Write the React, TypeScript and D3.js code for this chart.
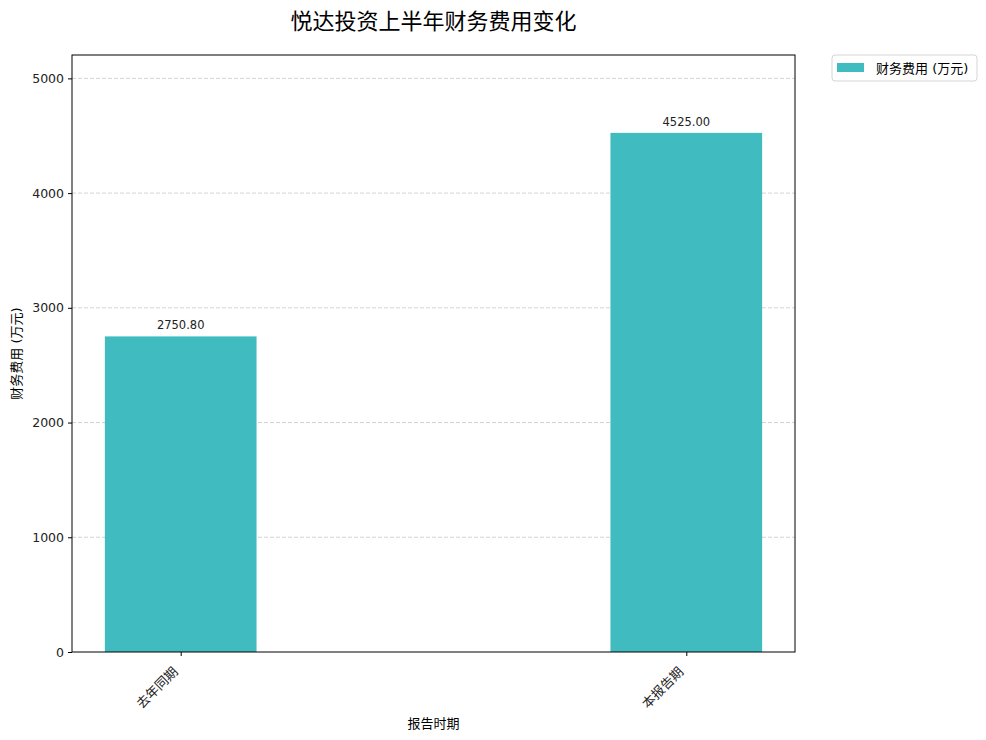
import React, { useEffect, useRef } from 'react'
import * as d3 from 'd3'

const categories = ['去年同期', '本报告期']
const values = [2750.8, 4525.0]
const yTicks = [0, 1000, 2000, 3000, 4000, 5000]
const seriesName = '财务费用 (万元)'
const title = '悦达投资上半年财务费用变化'
const xLabel = '报告时期'
const yLabel = '财务费用 (万元)'

const barColor = '#40bbbf'
const fontFamily = '"DejaVu Sans", "Noto Sans CJK SC", sans-serif'

const App: React.FC = () => {
  const svgRef = useRef<SVGSVGElement>(null)
  const width = 986
  const height = 740

  useEffect(() => {
    if (!svgRef.current) return
    const svg = d3.select(svgRef.current)
    svg.selectAll('*').remove()

    const margin = { top: 55, right: 191, bottom: 88, left: 72 }
    const innerWidth = width - margin.left - margin.right
    const innerHeight = height - margin.top - margin.bottom

    const g = svg.append('g')
      .attr('transform', `translate(${margin.left},${margin.top})`)

    // matplotlib-style numeric x positions with auto margins
    const barW = 0.3
    const xScale = d3.scaleLinear()
      .domain([-0.215, 1.215])
      .range([0, innerWidth])

    const yScale = d3.scaleLinear()
      .domain([0, d3.max(values)! * 1.15])
      .range([innerHeight, 0])

    // Grid
    g.append('g')
      .selectAll('line')
      .data(yTicks.filter(t => t > 0))
      .enter().append('line')
      .attr('x1', 0)
      .attr('x2', innerWidth)
      .attr('y1', d => yScale(d))
      .attr('y2', d => yScale(d))
      .attr('stroke', '#b0b0b0')
      .attr('stroke-opacity', 0.7)
      .attr('stroke-dasharray', '4,2')
      .attr('stroke-width', 0.8)

    // Bars
    g.selectAll('.bar')
      .data(values)
      .enter().append('rect')
      .attr('class', 'bar')
      .attr('x', (d, i) => xScale(i - barW / 2))
      .attr('width', xScale(barW) - xScale(0))
      .attr('y', d => yScale(d))
      .attr('height', d => innerHeight - yScale(d))
      .attr('fill', barColor)

    // Value labels
    g.selectAll('.val')
      .data(values)
      .enter().append('text')
      .attr('x', (d, i) => xScale(i))
      .attr('y', d => yScale(d) - 7)
      .attr('text-anchor', 'middle')
      .style('font-family', fontFamily)
      .style('font-size', '11.5px')
      .attr('fill', '#222')
      .text(d => d.toFixed(2))

    // Frame
    g.append('rect')
      .attr('width', innerWidth)
      .attr('height', innerHeight)
      .attr('fill', 'none')
      .attr('stroke', '#000')
      .attr('stroke-width', 1)

    // Y axis
    const yAxis = g.append('g')
      .call(d3.axisLeft(yScale).tickValues(yTicks).tickSize(4).tickPadding(4).tickFormat(d3.format('d')))
    yAxis.select('.domain').remove()
    yAxis.selectAll('text')
      .style('font-family', fontFamily)
      .style('font-size', '12.5px')
      .attr('fill', '#222')

    // X axis
    const xAxis = g.append('g')
      .attr('transform', `translate(0,${innerHeight})`)
      .call(d3.axisBottom(xScale).tickValues([0, 1]).tickSize(4).tickFormat((d: any) => categories[d as number]))
    xAxis.select('.domain').remove()
    xAxis.selectAll('text')
      .style('font-family', fontFamily)
      .style('font-size', '13px')
      .attr('fill', '#222')
      .attr('text-anchor', 'end')
      .attr('dy', null)
      .attr('y', 0)
      .attr('transform', 'translate(-5,18) rotate(-45)')
      .attr('dominant-baseline', 'middle')

    // Axis labels
    svg.append('text')
      .attr('x', margin.left + innerWidth / 2)
      .attr('y', 728)
      .attr('text-anchor', 'middle')
      .style('font-family', fontFamily)
      .style('font-size', '13px')
      .text(xLabel)

    svg.append('text')
      .attr('transform', `translate(21,${margin.top + innerHeight / 2}) rotate(-90)`)
      .attr('text-anchor', 'middle')
      .style('font-family', fontFamily)
      .style('font-size', '13px')
      .text(yLabel)

    // Title
    svg.append('text')
      .attr('x', margin.left + innerWidth / 2)
      .attr('y', 29)
      .attr('text-anchor', 'middle')
      .style('font-family', fontFamily)
      .style('font-size', '22px')
      .text(title)

    // Legend
    const legend = svg.append('g')
      .attr('transform', `translate(832,55)`)
    legend.append('rect')
      .attr('width', 145)
      .attr('height', 26)
      .attr('rx', 3)
      .attr('fill', '#fff')
      .attr('stroke', '#d5d5d5')
    legend.append('rect')
      .attr('x', 5)
      .attr('y', 8)
      .attr('width', 27)
      .attr('height', 9)
      .attr('fill', barColor)
    legend.append('text')
      .attr('x', 44)
      .attr('y', 18)
      .style('font-family', fontFamily)
      .style('font-size', '13px')
      .text(seriesName)
  }, [])

  return (
    <svg
      ref={svgRef}
      width={width}
      height={height}
      style={{ position: 'absolute', left: 0, top: 0, background: '#fff' }}
    />
  )
}

export default App
